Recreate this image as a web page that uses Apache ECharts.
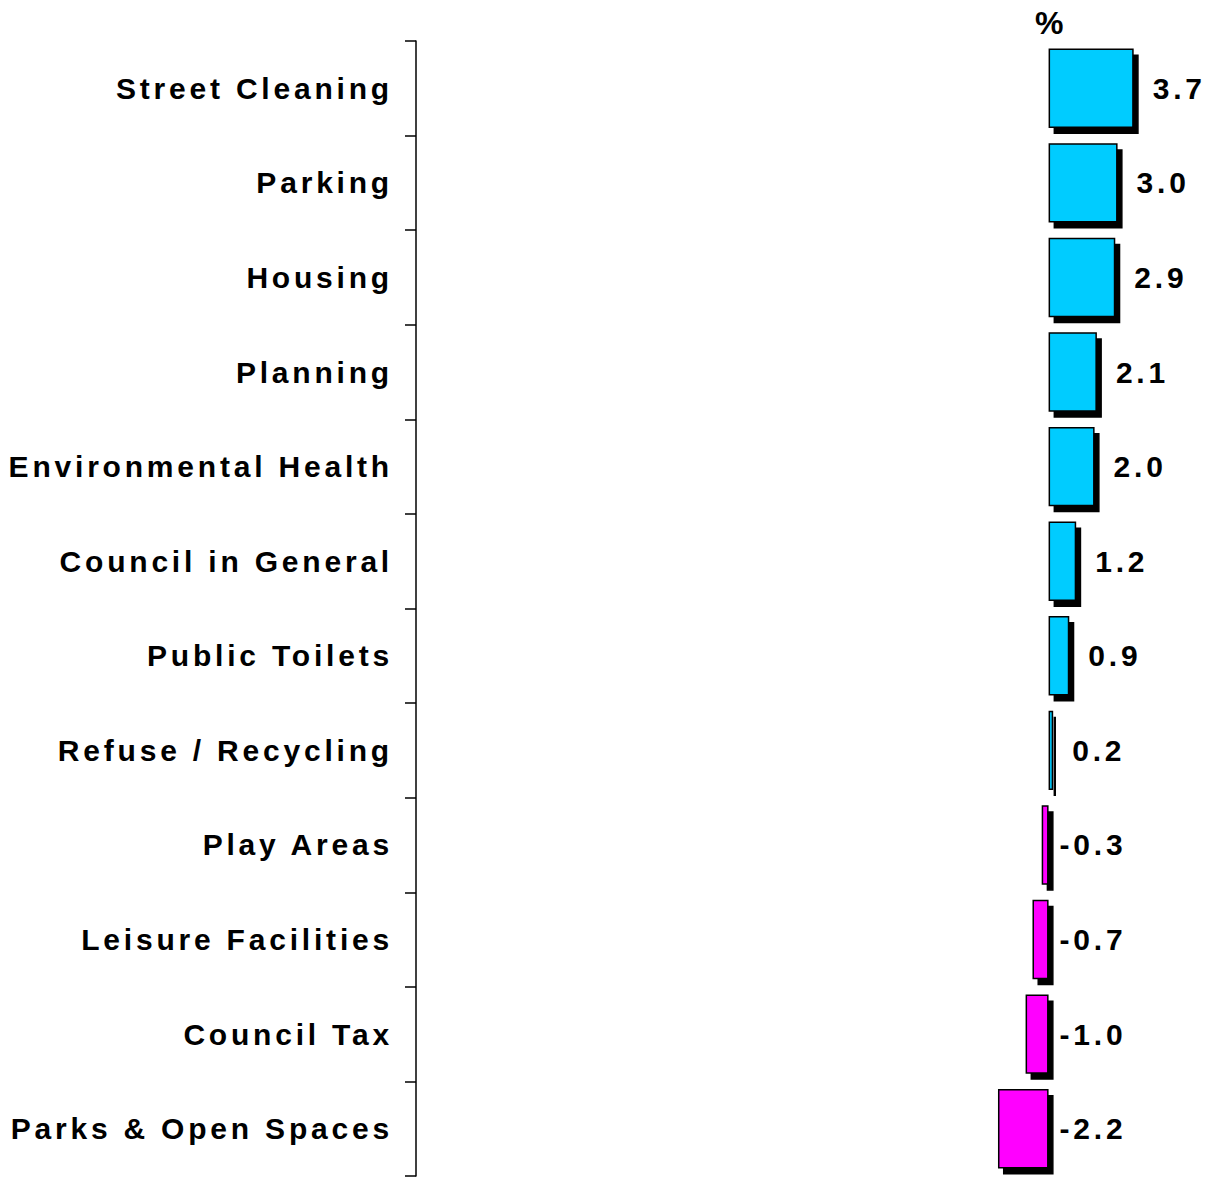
<!DOCTYPE html>
<html>
<head>
<meta charset="utf-8">
<title>Change by service</title>
<script src="https://cdn.jsdelivr.net/npm/echarts@6/dist/echarts.min.js"></script>
<style>
    html, body { margin: 0; padding: 0; background: #fff; }
    #chart { width: 1205px; height: 1178px; }
    /* the original lettering is spaced out */
    #chart text { letter-spacing: 3.8px; }
</style>
</head>
<body>
<div id="chart"></div>
<script>
    //服务类别（自上而下）
    var categories = ["Street Cleaning", "Parking", "Housing", "Planning", "Environmental Health",
        "Council in General", "Public Toilets", "Refuse / Recycling", "Play Areas",
        "Leisure Facilities", "Council Tax", "Parks & Open Spaces"];
    //变化百分比
    var values = [3.7, 3.0, 2.9, 2.1, 2.0, 1.2, 0.9, 0.2, -0.3, -0.7, -1.0, -2.2];
    var unitLabel = "%";

    var posColor = "#00ccff";
    var negColor = "#ff00ff";
    var font = "'Liberation Sans', Arial, sans-serif";
    var fontSize = 30;

    //正值青色，负值洋红，负值标签离零线近一些
    var barData = values.map(function (v) {
        return {
            value: v,
            itemStyle: {color: v < 0 ? negColor : posColor},
            label: {distance: v < 0 ? 11 : 19}
        };
    });

    var myChart = echarts.init(document.getElementById("chart"), null, {renderer: "svg"});

    var option = {
        animation: false,
        title: {
            text: unitLabel,
            left: 1030,
            top: 2,
            textStyle: {fontFamily: font, fontSize: fontSize + 2, fontWeight: "bold", color: "#000"}
        },
        grid: {left: 416, right: 0, top: 41, bottom: 2},
        xAxis: {
            type: "value",
            min: -27.5,
            max: 6.8,
            show: false,
            splitLine: {show: false}
        },
        yAxis: {
            type: "category",
            inverse: true,
            data: categories,
            axisLine: {show: true, onZero: false, lineStyle: {color: "#000", width: 1.5}},
            axisTick: {show: true, inside: false, alignWithLabel: false, length: 11,
                lineStyle: {color: "#000", width: 1.5}},
            axisLabel: {
                margin: 23,
                fontFamily: font,
                fontSize: fontSize,
                fontWeight: "bold",
                color: "#000"
            }
        },
        series: [{
            type: "bar",
            data: barData,
            barCategoryGap: "16%",
            itemStyle: {
                borderColor: "#000",
                borderWidth: 1.5,
                shadowColor: "#000",
                shadowBlur: 0,
                shadowOffsetX: 5,
                shadowOffsetY: 6
            },
            label: {
                show: true,
                position: "right",
                fontFamily: font,
                fontSize: fontSize,
                fontWeight: "bold",
                color: "#000",
                formatter: function (p) {
                    return p.value.toFixed(1);
                }
            }
        }]
    };

    myChart.setOption(option);
</script>
</body>
</html>
